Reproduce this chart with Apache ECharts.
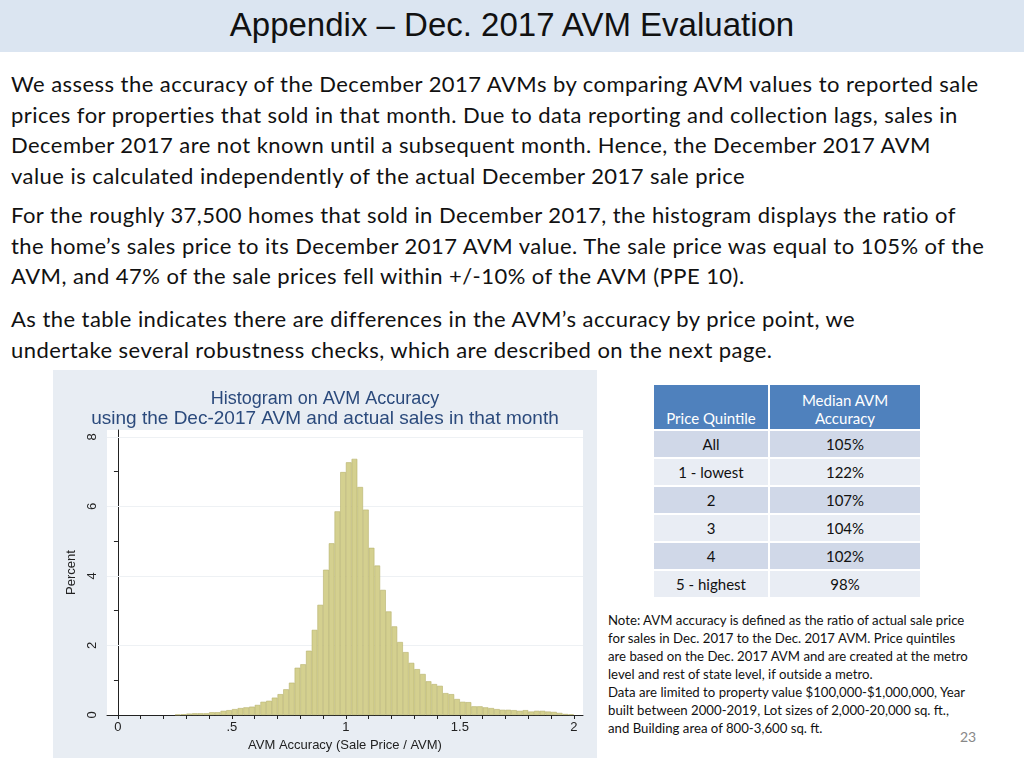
<!DOCTYPE html>
<html><head><meta charset="utf-8">
<script src="https://cdn.jsdelivr.net/npm/echarts@6/dist/echarts.min.js"></script>
<style>
body{margin:0;width:1024px;height:768px;position:relative;background:#fff;font-family:Lato,"Open Sans",sans-serif;overflow:hidden}
#top{position:absolute;left:0;top:0;width:1024px;height:52px;background:#dbe5f1;text-align:center;font:33px "Liberation Sans",Arial,sans-serif;line-height:50px;color:#111}
.p{position:absolute;left:11px;font-size:22px;line-height:30.5px;color:#111;white-space:nowrap;letter-spacing:0.45px}
#chart{position:absolute;left:53px;top:370px;width:544px;height:388px;background:#e8edf3}
table{position:absolute;left:652px;top:383px;border-collapse:collapse;font-size:15px;text-align:center;color:#111}
td{height:26px;border:2px solid #fff;padding:0}
th{background:#4f81bd;color:#fff;font-weight:normal;border:2px solid #fff;height:42px;vertical-align:bottom;padding:0 0 2px 0}
#note{position:absolute;left:608px;top:611px;font-size:13.2px;line-height:18px;color:#111;white-space:nowrap}
#pg{position:absolute;left:960px;top:728px;font-size:14px;color:#888}
</style></head><body>
<div id="top">Appendix – Dec. 2017 AVM Evaluation</div>
<div class="p" style="top:69px">We assess the accuracy of the December 2017 AVMs by comparing AVM values to reported sale<br>prices for properties that sold in that month. Due to data reporting and collection lags, sales in<br>December 2017 are not known until a subsequent month. Hence, the December 2017 AVM<br>value is calculated independently of the actual December 2017 sale price</div>
<div class="p" style="top:200px">For the roughly 37,500 homes that sold in December 2017, the histogram displays the ratio of<br>the home’s sales price to its December 2017 AVM value. The sale price was equal to 105% of the<br>AVM, and 47% of the sale prices fell within +/-10% of the AVM (PPE 10).</div>
<div class="p" style="top:304px">As the table indicates there are differences in the AVM’s accuracy by price point, we<br>undertake several robustness checks, which are described on the next page.</div>
<div id="chart"></div>
<table id="tbl"><tr><th style="width:114px">Price Quintile</th><th style="width:150px">Median AVM<br>Accuracy</th></tr></table>
<div id="note">Note: AVM accuracy is defined as the ratio of actual sale price<br>for sales in Dec. 2017 to the Dec. 2017 AVM. Price quintiles<br>are based on the Dec. 2017 AVM and are created at the metro<br>level and rest of state level, if outside a metro.<br>Data are limited to property value $100,000-$1,000,000, Year<br>built between 2000-2019, Lot sizes of 2,000-20,000 sq. ft.,<br>and Building area of 800-3,600 sq. ft.</div>
<div id="pg">23</div>
<script>
// histogram bins, width 0.025, starting at 0.25
var binStart = 0.25;
var binWidth = 0.025;
var percents = [0.01,0.02,0.04,0.05,0.05,0.05,0.08,0.08,0.12,0.14,0.17,0.2,0.22,
  0.24,0.29,0.38,0.41,0.5,0.6,0.74,0.93,1.36,1.46,1.85,2.45,3.17,4.18,4.94,5.86,6.99,7.27,7.37,
  6.56,5.91,4.81,4.3,3.6,2.98,2.55,2.1,1.81,1.5,1.32,1.18,0.97,0.89,0.84,0.63,0.6,0.46,0.38,0.37,
  0.25,0.25,0.22,0.2,0.17,0.15,0.15,0.14,0.12,0.14,0.1,0.12,0.12,0.1,0.09,0.06,0.03,0.02];
var quintiles = ['All','1 - lowest','2','3','4','5 - highest'];
var accuracy = ['105%','122%','107%','104%','102%','98%'];
var xLabels = [0,0.5,1,1.5,2];
var yLabels = [0,2,4,6,8];

var tbl = document.getElementById('tbl');
quintiles.forEach(function(q, i) {
	var bg = i % 2 == 0 ? '#d0d8e8' : '#e9edf4';
	var tr = document.createElement('tr');
	tr.innerHTML = '<td style="background:' + bg + '">' + q + '</td><td style="background:' + bg + '">' + accuracy[i] + '</td>';
	tbl.appendChild(tr);
});

var data = percents.map(function(v, i) { return [binStart + binWidth * (i + 0.5), v]; });
var xTicks = [];
for (var i = 0; i <= 20; i++) xTicks.push(i / 10);

var myChart = echarts.init(document.getElementById('chart'));
myChart.setOption({
	animation: false,
	title: {
		text: 'Histogram on AVM Accuracy',
		subtext: 'using the Dec-2017 AVM and actual sales in that month',
		left: 'center', top: 15, itemGap: 1,
		textStyle: {fontFamily: 'Liberation Sans', fontSize: 18, fontWeight: 'normal', color: '#2b4a7c'},
		subtextStyle: {fontFamily: 'Liberation Sans', fontSize: 19, color: '#2b4a7c'}
	},
	grid: {left: 54, right: 14, top: 60, bottom: 43, backgroundColor: '#fff', show: true, borderWidth: 0},
	xAxis: {
		type: 'value', min: -0.048, max: 2.04,
		name: 'AVM Accuracy (Sale Price / AVM)', nameLocation: 'middle', nameGap: 22,
		nameTextStyle: {fontFamily: 'Liberation Sans', fontSize: 13, color: '#222'},
		axisLine: {lineStyle: {color: '#222'}},
		axisTick: {customValues: xTicks, length: 4, lineStyle: {color: '#222'}},
		axisLabel: {customValues: xLabels, fontFamily: 'Liberation Sans', fontSize: 13, color: '#222', margin: 6,
			formatter: function(v) { return v == 0.5 ? '.5' : String(v); }},
		splitLine: {show: false}
	},
	yAxis: {
		type: 'value', min: 0, max: 8.2,
		name: 'Percent', nameLocation: 'middle', nameGap: 26, nameRotate: 90,
		nameTextStyle: {fontFamily: 'Liberation Sans', fontSize: 13, color: '#222'},
		axisLine: {show: true, lineStyle: {color: '#222'}},
		axisTick: {customValues: [0,1,2,3,4,5,6,7,8], length: 4, lineStyle: {color: '#222'}},
		axisLabel: {customValues: yLabels, rotate: 90, fontFamily: 'Liberation Sans', fontSize: 13, color: '#222', margin: 8},
		splitLine: {show: false}
	},
	series: [{
		type: 'line', data: [], z: 1,
		markLine: {
			silent: true, symbol: 'none', label: {show: false}, z: 1,
			lineStyle: {color: '#eef1f4', type: 'solid', width: 1},
			data: yLabels.slice(1).map(function(v) { return {yAxis: v}; })
		}
	}, {
		type: 'bar', data: data, barWidth: 5.7, z: 5,
		itemStyle: {color: '#d4d08f', borderColor: '#b7b26c', borderWidth: 0.6}
	}]
});
</script>
</body></html>
